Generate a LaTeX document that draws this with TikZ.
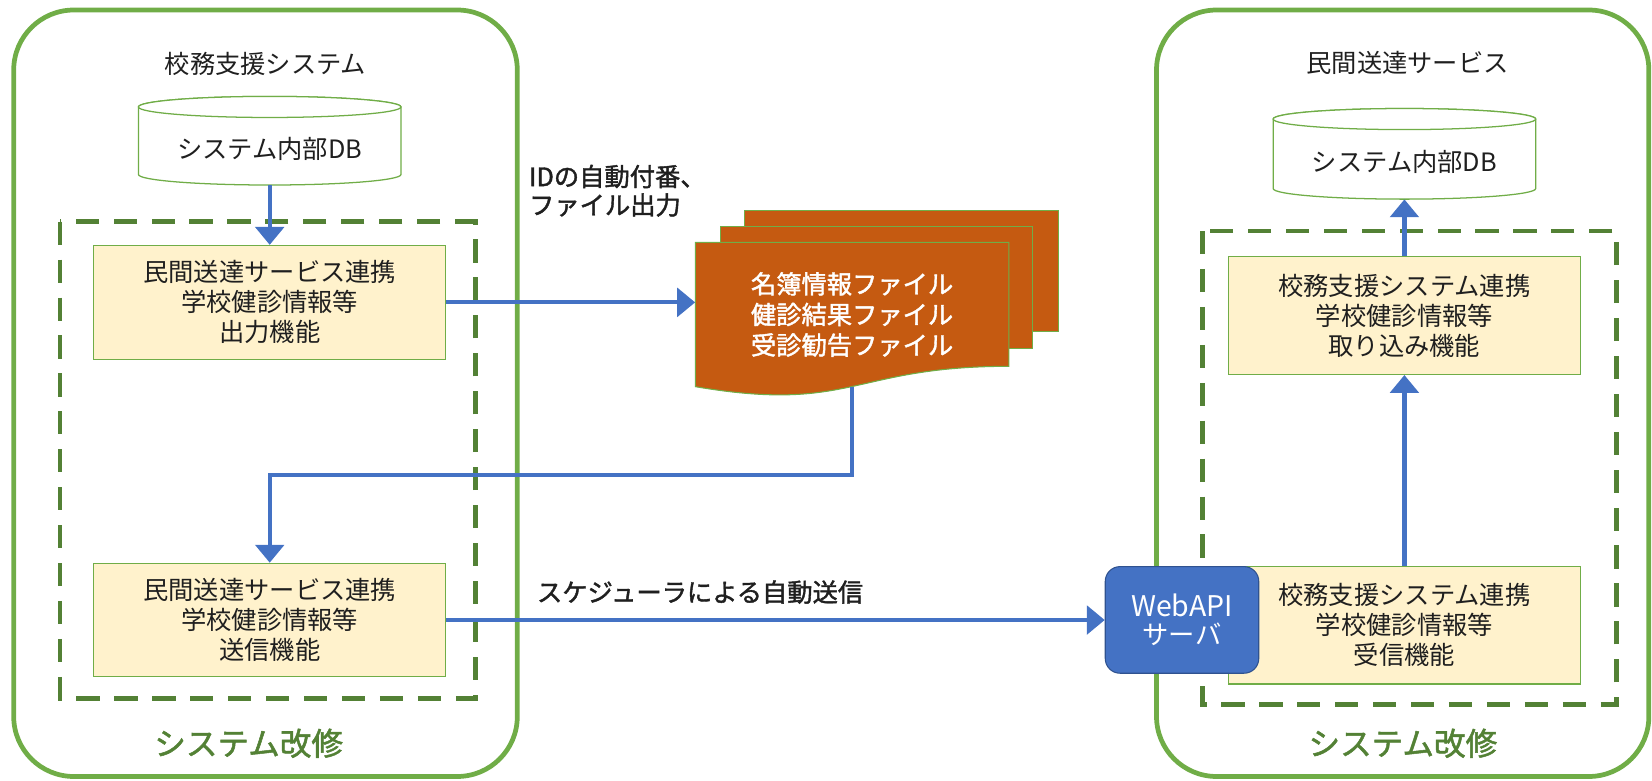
\documentclass[tikz,border=0pt]{standalone}
\usepackage{fontspec}
\setmainfont{Noto Sans CJK JP}
\newfontfamily\medfont{Noto Sans CJK JP}[FakeBold=1.6]
\usetikzlibrary{arrows.meta}
\definecolor{outerg}{HTML}{70AD47}
\definecolor{dashg}{HTML}{538135}
\definecolor{boxfill}{HTML}{FFF2CC}
\definecolor{arrblue}{HTML}{4472C4}
\definecolor{docfill}{HTML}{C55A11}
\definecolor{webedge}{HTML}{2F528F}
\begin{document}
\begin{tikzpicture}[x=1pt,y=-1pt,
  outerbox/.style={draw=outerg, line width=4.5pt, rounded corners=57pt},
  modbox/.style={draw=dashg, line width=4.5pt, dash pattern=on 22pt off 14pt},
  funcbox/.style={draw=outerg, line width=1.2pt, fill=boxfill, inner sep=0pt, align=center,
    font=\fontsize{24}{28.5}\selectfont, text=black!88},
  dbshape/.style={draw=outerg, line width=1.2pt, fill=white},
  dblabel/.style={inner sep=0pt, font=\fontsize{24}{28}\selectfont, text=black!88},
  title/.style={inner sep=0pt, font=\fontsize{24}{28}\selectfont, text=black!88},
  docshape/.style={fill=docfill, draw=outerg, line width=1pt},
  note/.style={inner sep=0pt, font=\medfont\fontsize{24}{27}\selectfont, text=black!88},
  revise/.style={inner sep=0pt, text=dashg, font=\medfont\fontsize{30}{32}\selectfont},
  flow/.style={draw=arrblue, line width=4pt, -{Triangle[length=17pt,width=27pt]}}
]
\useasboundingbox (0,0) rectangle (1568,741);

% outer containers
\draw[outerbox] (13,9.5) rectangle (491,737);
\draw[outerbox] (1097.7,9.5) rectangle (1565,737);

% dashed modification areas
\draw[modbox] (57,210.4) rectangle (451,662.8);
\draw[modbox] (1141,219.3) rectangle (1534,669);

% titles
\node[title] (titleL) at (252,61) {校務支援システム};
\node[title] (titleR) at (1336,60) {民間送達サービス};

% left DB cylinder
\filldraw[dbshape] (131.4,101.5) -- (131.4,165.6) arc[start angle=180,end angle=0,x radius=124.6,y radius=10]
  -- (380.6,101.5) arc[start angle=0,end angle=-180,x radius=124.6,y radius=10] -- cycle;
\draw[dbshape] (256,101.5) ellipse[x radius=124.6, y radius=10];
\node[dblabel, minimum width=249.2pt, minimum height=74.1pt] (dbL) at (256,138.5) {};
\node[dblabel] (dbLtext) at (256,141) {システム内部DB};

% right DB cylinder
\filldraw[dbshape] (1208.4,113) -- (1208.4,179) arc[start angle=180,end angle=0,x radius=124.6,y radius=10]
  -- (1457.6,113) arc[start angle=0,end angle=-180,x radius=124.6,y radius=10] -- cycle;
\draw[dbshape] (1333,113) ellipse[x radius=124.6, y radius=10];
\node[dblabel, minimum width=249.2pt, minimum height=76pt] (dbR) at (1333,151) {};
\node[dblabel] (dbRtext) at (1333,153.5) {システム内部DB};

% function boxes
\node[funcbox, minimum width=334.2pt, minimum height=108pt] (b1) at (256,287)
  {民間送達サービス連携\\学校健診情報等\\出力機能};
\node[funcbox, minimum width=334.2pt, minimum height=107.6pt] (b2) at (256,588.5)
  {民間送達サービス連携\\学校健診情報等\\送信機能};
\node[funcbox, minimum width=334pt, minimum height=111.7pt] (r1) at (1333,299.5)
  {校務支援システム連携\\学校健診情報等\\取り込み機能};
\node[funcbox, minimum width=334pt, minimum height=111.4pt] (r2) at (1333,593.5)
  {校務支援システム連携\\学校健診情報等\\受信機能};

% WebAPI server
\node[fill=arrblue, draw=webedge, line width=1pt, rounded corners=14pt, minimum width=145.7pt,
  minimum height=101.2pt, inner sep=0pt, text=white, align=center,
  font=\fontsize{25}{27}\selectfont] (web) at (1121.9,588.4)
  {{\fontsize{27}{27}\selectfont WebAPI}\\サーバ};

% documents stack
\filldraw[docshape] (707,200) rectangle (1005,315);
\filldraw[docshape] (683.7,215) rectangle (980,331);
\filldraw[docshape] (660,230) -- (957.5,230) -- (957.5,347.7)
  .. controls (808.75,347.7) and (808.75,392.4) .. (660,367) -- cycle;
\node[inner sep=0pt, minimum width=297.5pt, minimum height=137pt, align=center, text=white,
  font=\medfont\fontsize{24}{29}\selectfont] (doc) at (808.75,298.5)
  {名簿情報ファイル\\健診結果ファイル\\受診勧告ファイル};

% labels
\node[note, anchor=west, align=left] (lblid) at (502,181) {IDの自動付番、\\ファイル出力};
\node[note] (lblsch) at (664.5,562) {スケジューラによる自動送信};
\node[revise] (revL) at (236,705.5) {システム改修};
\node[revise] (revR) at (1331.5,705.5) {システム改修};

% connectors
\coordinate (turn) at (808.75,450.8);
\draw[flow] (dbL.south) -- (b1.north);
\draw[flow] (b1.east) -- (b1.east -| doc.west);
\draw[flow] (doc.south) -- (turn) -| (b2.north);
\draw[flow] (b2.east) -- (b2.east -| web.west);
\draw[flow] (r2.north) -- (r1.south);
\draw[flow] (r1.north) -- (dbR.south);
\end{tikzpicture}
\end{document}
